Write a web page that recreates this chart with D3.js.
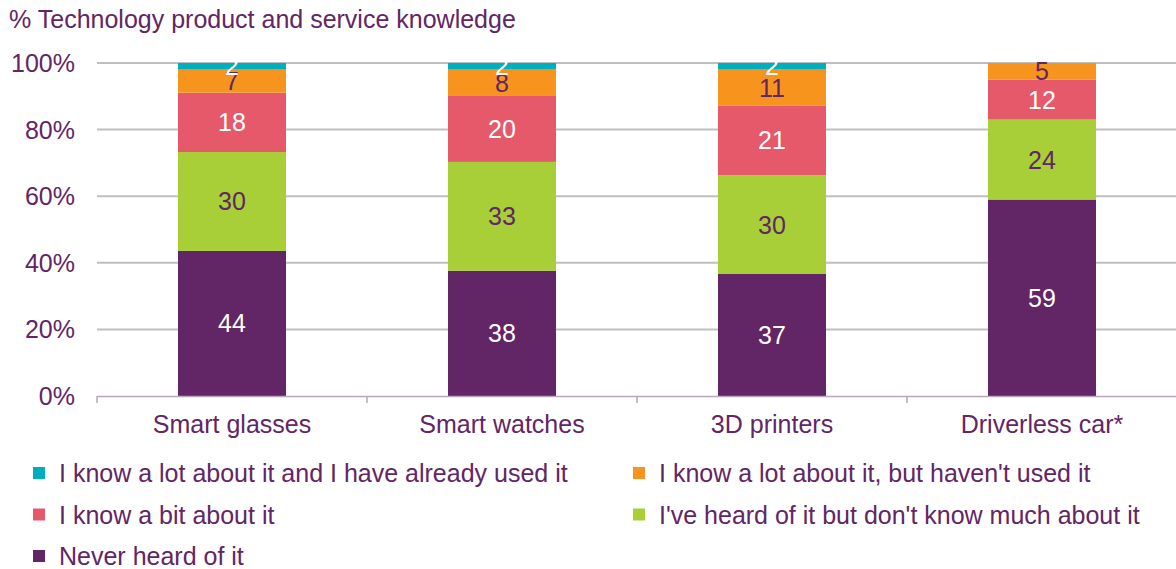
<!DOCTYPE html>
<html>
<head>
<style>
body { margin: 0; background: #fff; }
text { font-family: "Liberation Sans", Arial, sans-serif; }
</style>
</head>
<body>
<svg id="chart"></svg>
<script src="https://cdn.jsdelivr.net/npm/d3@7"></script>
<script>
// data, bottom segment first
var categories = ["Smart glasses", "Smart watches", "3D printers", "Driverless car*"];
var neverHeard = [44, 38, 37, 59];
var heardNotMuch = [30, 33, 30, 24];
var knowBit = [18, 20, 21, 12];
var knowLotNotUsed = [7, 8, 11, 5];
var knowLotUsed = [2, 2, 2, 0];
var yTicks = [0, 20, 40, 60, 80, 100];

var series = [
	{ key: "never", name: "Never heard of it", values: neverHeard, color: "#622565", label: "#fff" },
	{ key: "heard", name: "I've heard of it but don't know much about it", values: heardNotMuch, color: "#a8cf38", label: "#622565" },
	{ key: "bit", name: "I know a bit about it", values: knowBit, color: "#e5596a", label: "#fff" },
	{ key: "notused", name: "I know a lot about it, but haven't used it", values: knowLotNotUsed, color: "#f7941e", label: "#622565" },
	{ key: "used", name: "I know a lot about it and I have already used it", values: knowLotUsed, color: "#00afbe", label: "#fff" }
];

var width = 1176, height = 569;
var textCol = "#622565";
var fs = 25;

var svg = d3.select("#chart").attr("width", width).attr("height", height);

var rows = categories.map(function(c, i) {
	var r = { cat: c };
	series.forEach(function(s) { r[s.key] = s.values[i]; });
	return r;
});

var stacked = d3.stack()
	.keys(series.map(function(s) { return s.key; }))
	.offset(d3.stackOffsetExpand)(rows);

var x = d3.scaleBand().domain(categories).range([97, 1177]).paddingInner(0.6).paddingOuter(0.3);
var y = d3.scaleLinear().domain([0, 1]).range([396, 63]);

// title
svg.append("text").attr("x", 9).attr("y", 28).attr("font-size", fs).attr("fill", textCol)
	.text("% Technology product and service knowledge");

// gridlines
svg.append("g").selectAll("line").data(yTicks.slice(1)).enter().append("line")
	.attr("x1", 97).attr("x2", width)
	.attr("y1", function(d) { return y(d / 100); }).attr("y2", function(d) { return y(d / 100); })
	.attr("stroke", "#bfbfbf").attr("stroke-width", 2);

// y labels
svg.append("g").selectAll("text").data(yTicks).enter().append("text")
	.attr("x", 75).attr("y", function(d) { return y(d / 100); }).attr("dy", "0.36em")
	.attr("text-anchor", "end").attr("font-size", fs).attr("fill", textCol)
	.text(function(d) { return d + "%"; });

// bars
var layer = svg.append("g").selectAll("g").data(stacked).enter().append("g");
layer.selectAll("rect").data(function(d) { return d; }).enter().append("rect")
	.attr("x", function(d) { return x(d.data.cat); })
	.attr("width", x.bandwidth())
	.attr("y", function(d) { return y(d[1]); })
	.attr("height", function(d) { return y(d[0]) - y(d[1]); })
	.attr("fill", function(d, i, n) { return series[d3.select(n[i].parentNode).datum().index].color; });

// value labels
stacked.forEach(function(st, si) {
	svg.append("g").selectAll("text").data(st.filter(function(d) { return d.data[st.key] > 0; }))
		.enter().append("text")
		.attr("x", function(d) { return x(d.data.cat) + x.bandwidth() / 2; })
		.attr("y", function(d) { return y((d[0] + d[1]) / 2); })
		.attr("dy", "0.36em")
		.attr("text-anchor", "middle").attr("font-size", fs)
		.attr("fill", series[si].label)
		.text(function(d) { return d.data[st.key]; });
});

// x axis
var bounds = [97].concat(categories.map(function(c) { return x(c) - x.step() * 0.3 + x.step(); }));
svg.append("line").attr("x1", 97).attr("x2", width).attr("y1", 396.5).attr("y2", 396.5)
	.attr("stroke", "#b9a6bc").attr("stroke-width", 1.5);
svg.append("g").selectAll("line").data(bounds).enter().append("line")
	.attr("x1", function(d) { return d; }).attr("x2", function(d) { return d; })
	.attr("y1", 396).attr("y2", 403).attr("stroke", "#b9a6bc").attr("stroke-width", 1.5);
svg.append("g").selectAll("text").data(categories).enter().append("text")
	.attr("x", function(d) { return x(d) + x.bandwidth() / 2; }).attr("y", 433)
	.attr("text-anchor", "middle").attr("font-size", fs).attr("fill", textCol)
	.text(function(d) { return d; });

// legend
var legendOrder = ["used", "notused", "bit", "heard", "never"];
var leg = svg.append("g").selectAll("g").data(legendOrder).enter().append("g")
	.attr("transform", function(d, i) {
		return "translate(" + (i % 2 ? 633 : 33) + "," + (473 + Math.floor(i / 2) * 41.5) + ")";
	});
leg.append("rect").attr("x", 0).attr("y", -6).attr("width", 12).attr("height", 12)
	.attr("fill", function(k) { return series.find(function(s) { return s.key === k; }).color; });
leg.append("text").attr("x", 26).attr("y", 0).attr("dy", "0.36em").attr("font-size", fs).attr("fill", textCol)
	.text(function(k) { return series.find(function(s) { return s.key === k; }).name; });
</script>
</body>
</html>
